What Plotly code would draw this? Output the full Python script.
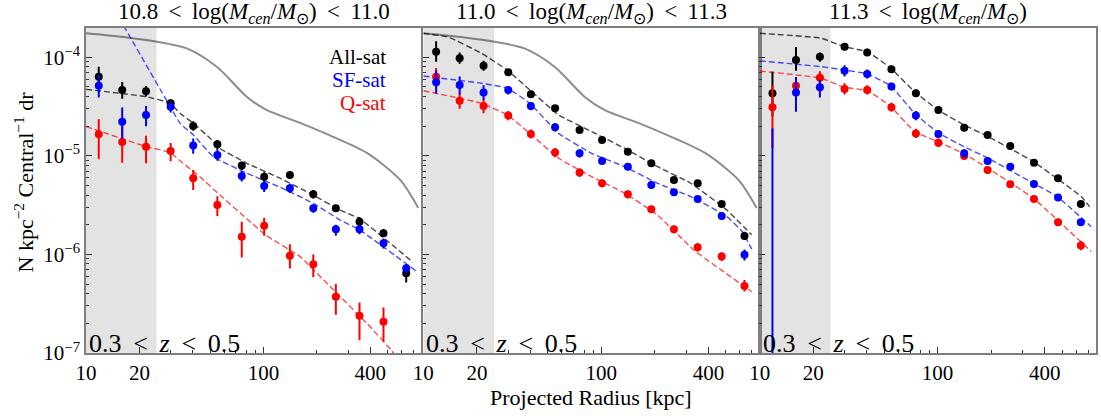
import plotly.graph_objects as go

# ---------------- data ----------------
R = [11.8, 16.0, 21.8, 30.0, 40.2, 55.0, 75.5, 101, 141, 191, 256, 348, 475, 638]
SHADE_MAX_KPC = 25

SP = "\u2009"  # thin space for TeX-like relation spacing
TITLES = [f"10.8 {SP}&lt;{SP} log(<i>M</i><sub><i>cen</i></sub>/<i>M</i><sub>⊙</sub>) {SP}&lt;{SP} 11.0",
          f"11.0 {SP}&lt;{SP} log(<i>M</i><sub><i>cen</i></sub>/<i>M</i><sub>⊙</sub>) {SP}&lt;{SP} 11.3",
          f"11.3 {SP}&lt;{SP} log(<i>M</i><sub><i>cen</i></sub>/<i>M</i><sub>⊙</sub>)"]
ZLABEL = f"0.3 {SP}&lt;{SP} <i>z</i> {SP}&lt;{SP} 0.5"

# panel 1 (10.8-11.0)
p1_all = [6.35e-5, 4.66e-5, 4.52e-5, 3.41e-5, 2.01e-5, 1.31e-5, 7.96e-6, 6.15e-6, 6.4e-6, 4.08e-6, 2.94e-6, 2.15e-6, 1.64e-6, 6.45e-7]
p1_all_hi = [8.0e-5, 5.6e-5, 5.1e-5, 3.75e-5, 2.25e-5, 1.45e-5, 8.7e-6, 6.8e-6, 6.9e-6, 4.5e-6, 3.2e-6, 2.4e-6, 1.8e-6, 7.7e-7]
p1_all_lo = [4.97e-5, 3.8e-5, 4.0e-5, 3.1e-5, 1.8e-5, 1.15e-5, 7.2e-6, 5.5e-6, 5.9e-6, 3.7e-6, 2.7e-6, 1.95e-6, 1.5e-6, 5.2e-7]
p1_sf = [5.15e-5, 2.22e-5, 2.6e-5, 3.15e-5, 1.27e-5, 1.02e-5, 6.25e-6, 4.95e-6, 4.69e-6, 2.94e-6, 1.8e-6, 1.8e-6, 1.3e-6, 7.25e-7]
p1_sf_hi = [6.6e-5, 3.1e-5, 3.2e-5, 3.45e-5, 1.5e-5, 1.15e-5, 7.0e-6, 5.6e-6, 5.2e-6, 3.2e-6, 2.0e-6, 2.0e-6, 1.45e-6, 8.0e-7]
p1_sf_lo = [3.9e-5, 1.5e-5, 2.0e-5, 2.75e-5, 1.05e-5, 8.9e-6, 5.5e-6, 4.3e-6, 4.2e-6, 2.65e-6, 1.55e-6, 1.6e-6, 1.15e-6, 6.4e-7]
p1_q = [1.66e-5, 1.38e-5, 1.24e-5, 1.12e-5, 5.93e-6, 3.18e-6, 1.51e-6, 1.95e-6, 9.7e-7, 7.95e-7, 3.73e-7, 2.39e-7, 2.08e-7]
p1_q_hi = [2.35e-5, 2.0e-5, 1.6e-5, 1.35e-5, 7.2e-6, 3.9e-6, 2.15e-6, 2.35e-6, 1.27e-6, 1.0e-6, 5.0e-7, 3.25e-7, 2.9e-7]
p1_q_lo = [9.3e-6, 8.5e-6, 8.4e-6, 8.8e-6, 4.5e-6, 2.45e-6, 9.3e-7, 1.55e-6, 7.2e-7, 5.9e-7, 2.45e-7, 1.35e-7, 1.3e-7]

# panel 2 (11.0-11.3)
p2_all = [1.14e-4, 9.77e-5, 8.2e-5, 7.05e-5, 4.22e-5, 3.04e-5, 1.83e-5, 1.45e-5, 1.1e-5, 8.42e-6, 5.7e-6, 5.27e-6, 3.25e-6, 1.54e-6]
p2_all_hi = [1.45e-4, 1.12e-4, 9.2e-5, 7.6e-5, 4.6e-5, 3.25e-5, 1.95e-5, 1.55e-5, 1.17e-5, 8.9e-6, 6.0e-6, 5.5e-6, 3.45e-6, 1.7e-6]
p2_all_lo = [9.0e-5, 8.6e-5, 7.3e-5, 6.5e-5, 3.9e-5, 2.85e-5, 1.72e-5, 1.37e-5, 1.04e-5, 7.9e-6, 5.35e-6, 5.0e-6, 3.05e-6, 1.4e-6]
p2_sf = [5.57e-5, 5.23e-5, 4.38e-5, 4.65e-5, 3.2e-5, 1.95e-5, 1.06e-5, 8.87e-6, 7.77e-6, 5.07e-6, 4.28e-6, 3.66e-6, 2.45e-6, 9.9e-7]
p2_sf_hi = [7.3e-5, 6.4e-5, 5.2e-5, 5.1e-5, 3.5e-5, 2.15e-5, 1.17e-5, 9.6e-6, 8.3e-6, 5.5e-6, 4.6e-6, 3.9e-6, 2.65e-6, 1.12e-6]
p2_sf_lo = [4.3e-5, 4.2e-5, 3.7e-5, 4.2e-5, 2.9e-5, 1.77e-5, 9.6e-6, 8.2e-6, 7.2e-6, 4.65e-6, 3.95e-6, 3.4e-6, 2.25e-6, 8.7e-7]
p2_q = [6.35e-5, 3.63e-5, 3.2e-5, 2.56e-5, 1.67e-5, 1.08e-5, 6.76e-6, 5.27e-6, 4.08e-6, 2.87e-6, 1.8e-6, 1.18e-6, 9.5e-7, 4.79e-7]
p2_q_hi = [7.8e-5, 4.3e-5, 3.8e-5, 2.85e-5, 1.85e-5, 1.2e-5, 7.5e-6, 5.75e-6, 4.45e-6, 3.1e-6, 1.97e-6, 1.3e-6, 1.05e-6, 5.5e-7]
p2_q_lo = [4.9e-5, 3.0e-5, 2.7e-5, 2.3e-5, 1.5e-5, 9.7e-6, 6.1e-6, 4.8e-6, 3.7e-6, 2.65e-6, 1.64e-6, 1.07e-6, 8.6e-7, 4.2e-7]

# panel 3 (>11.3)
p3_all = [4.32e-5, 9.4e-5, 1.01e-4, 1.28e-4, 1.12e-4, 7.55e-5, 4.32e-5, 2.92e-5, 1.93e-5, 1.63e-5, 1.26e-5, 8.53e-6, 5.93e-6, 3.25e-6]
p3_all_hi = [7.15e-5, 1.27e-4, 1.12e-4, 1.39e-4, 1.22e-4, 8.2e-5, 4.7e-5, 3.15e-5, 2.08e-5, 1.75e-5, 1.35e-5, 9.1e-6, 6.3e-6, 3.45e-6]
p3_all_lo = [2.5e-5, 7.3e-5, 9.0e-5, 1.18e-4, 1.03e-4, 6.95e-5, 3.95e-5, 2.7e-5, 1.78e-5, 1.51e-5, 1.17e-5, 7.9e-6, 5.55e-6, 3.05e-6]
p3_sf = [5.0e-8, 4.38e-5, 4.97e-5, 7.31e-5, 6.78e-5, 5.04e-5, 2.56e-5, 1.67e-5, 1.06e-5, 8.87e-6, 7.77e-6, 5.19e-6, 3.77e-6, 2.12e-6]
p3_sf_hi = [1.9e-5, 6.3e-5, 5.9e-5, 8.3e-5, 7.5e-5, 5.5e-5, 2.85e-5, 1.83e-5, 1.16e-5, 9.6e-6, 8.4e-6, 5.6e-6, 4.05e-6, 2.3e-6]
p3_sf_lo = [4.0e-8, 2.8e-5, 3.9e-5, 6.4e-5, 6.1e-5, 4.6e-5, 2.3e-5, 1.52e-5, 9.7e-6, 8.2e-6, 7.2e-6, 4.8e-6, 3.5e-6, 1.95e-6]
p3_q = [3.11e-5, 5.15e-5, 6.21e-5, 4.77e-5, 4.66e-5, 3.11e-5, 1.69e-5, 1.36e-5, 9.97e-6, 7.2e-6, 5.15e-6, 3.66e-6, 2.12e-6, 1.23e-6]
p3_q_hi = [5.2e-5, 6.2e-5, 7.2e-5, 5.45e-5, 5.2e-5, 3.45e-5, 1.88e-5, 1.5e-5, 1.09e-5, 7.8e-6, 5.55e-6, 3.95e-6, 2.3e-6, 1.36e-6]
p3_q_lo = [1.2e-5, 4.3e-5, 5.4e-5, 4.2e-5, 4.2e-5, 2.8e-5, 1.52e-5, 1.23e-5, 9.1e-6, 6.65e-6, 4.75e-6, 3.38e-6, 1.95e-6, 1.1e-6]

# model (dashed) curves
m1_all_r = [10, 21.9, 29.8, 33.9, 40.3, 50, 56.9, 80.6, 124, 191, 270, 349, 697]
m1_all_y = [4.73e-5, 3.98e-5, 3.41e-5, 2.7e-5, 2.14e-5, 1.51e-5, 1.19e-5, 8.41e-6, 5.93e-6, 4.0e-6, 2.82e-6, 2.3e-6, 8.3e-7]
m1_sf_r = [14.5, 16.6, 29.8, 33.9, 40.3, 52.2, 80.6, 124, 191, 270, 349, 733]
m1_sf_y = [3.0e-4, 1.97e-4, 3.16e-5, 2.14e-5, 1.63e-5, 9.8e-6, 6.67e-6, 4.81e-6, 3.3e-6, 2.24e-6, 1.77e-6, 6.7e-7]
m1_q_r = [10, 21.9, 29.8, 35, 44, 56.9, 80.6, 104, 161, 247, 383, 541, 600]
m1_q_y = [1.98e-5, 1.24e-5, 1.08e-5, 8.5e-6, 6.1e-6, 4.0e-6, 2.3e-6, 1.55e-6, 9.5e-7, 4.4e-7, 2.0e-7, 1.0e-7, 7.0e-8]

m2_all_r = [10, 13.8, 21.2, 29.6, 39.7, 57.6, 88.3, 135.5, 207, 318, 508, 700]
m2_all_y = [1.75e-4, 1.6e-4, 1.1e-4, 7.4e-5, 4.66e-5, 2.6e-5, 1.76e-5, 1.19e-5, 7.76e-6, 5.27e-6, 2.82e-6, 1.58e-6]
m2_sf_r = [10, 21.2, 29.6, 39.7, 57.6, 88.3, 135.5, 207, 318, 508, 620, 700]
m2_sf_y = [6.45e-5, 5.45e-5, 4.85e-5, 3.41e-5, 1.69e-5, 1.06e-5, 7.76e-6, 5.27e-6, 3.86e-6, 2.42e-6, 1.7e-6, 1.13e-6]
m2_q_r = [10, 21.2, 29.6, 39.7, 57.6, 88.3, 135.5, 207, 331, 700]
m2_q_y = [4.58e-5, 3.41e-5, 2.6e-5, 1.69e-5, 9.46e-6, 6.15e-6, 4.17e-6, 2.51e-6, 1.11e-6, 4.2e-7]

m3_all_r = [10, 22.2, 29.8, 40.3, 54.5, 74.2, 100.6, 140.7, 192, 345, 641, 715]
m3_all_y = [1.75e-4, 1.56e-4, 1.28e-4, 1.14e-4, 7.74e-5, 4.48e-5, 2.92e-5, 2.06e-5, 1.57e-5, 8.73e-6, 3.86e-6, 3.05e-6]
m3_sf_r = [10, 22.2, 29.8, 40.3, 54.5, 74.2, 100.6, 140.7, 192, 345, 470, 730]
m3_sf_y = [9.2e-5, 8.03e-5, 7.43e-5, 6.78e-5, 5.12e-5, 2.7e-5, 1.72e-5, 1.24e-5, 9.46e-6, 5.27e-6, 3.86e-6, 1.91e-6]
m3_q_r = [10, 22.2, 29.8, 40.3, 54.5, 74.2, 100.6, 140.7, 192, 345, 730]
m3_q_y = [7.26e-5, 6.12e-5, 4.97e-5, 4.58e-5, 3.16e-5, 1.76e-5, 1.39e-5, 1.05e-5, 7.48e-6, 3.71e-6, 1.07e-6]

# gray reference curve (panels 1 and 2)
g_r = [10, 17.0, 25.1, 37.0, 54.6, 80.5, 104, 161, 247, 383, 590, 746]
g_y = [1.75e-4, 1.59e-4, 1.44e-4, 1.23e-4, 8.0e-5, 3.98e-5, 2.92e-5, 2.16e-5, 1.56e-5, 1.07e-5, 5.7e-6, 2.96e-6]

XTICKS = [10, 20, 100, 400]
XMINOR = [30, 40, 50, 60, 70, 80, 90, 200, 300, 500, 600, 700]
YTICKS = [1e-7, 1e-6, 1e-5, 1e-4]
YTICKTEXT = ["10<sup>−7</sup>", "10<sup>−6</sup>", "10<sup>−5</sup>", "10<sup>−4</sup>"]
YMINOR = [m * 10 ** e for e in (-7, -6, -5, -4) for m in range(2, 10)]

# ---------------- style ----------------
FONT = "Liberation Serif"
C_ALL, C_SF, C_Q = "black", "#0000ff", "#ff0000"
D_ALL, D_SF, D_Q = "rgba(0,0,0,0.72)", "rgba(0,0,255,0.7)", "rgba(255,0,0,0.7)"

fig = go.Figure()

panels = [
    dict(all=(p1_all, p1_all_hi, p1_all_lo), sf=(p1_sf, p1_sf_hi, p1_sf_lo), q=(p1_q, p1_q_hi, p1_q_lo),
         m=((m1_all_r, m1_all_y), (m1_sf_r, m1_sf_y), (m1_q_r, m1_q_y)), gray=True),
    dict(all=(p2_all, p2_all_hi, p2_all_lo), sf=(p2_sf, p2_sf_hi, p2_sf_lo), q=(p2_q, p2_q_hi, p2_q_lo),
         m=((m2_all_r, m2_all_y), (m2_sf_r, m2_sf_y), (m2_q_r, m2_q_y)), gray=True),
    dict(all=(p3_all, p3_all_hi, p3_all_lo), sf=(p3_sf, p3_sf_hi, p3_sf_lo), q=(p3_q, p3_q_hi, p3_q_lo),
         m=((m3_all_r, m3_all_y), (m3_sf_r, m3_sf_y), (m3_q_r, m3_q_y)), gray=False),
]

domains = [[0.0, 0.332], [0.334, 0.667], [0.667, 1.0]]

for i, p in enumerate(panels):
    xa = "x" if i == 0 else f"x{i+1}"
    ya = "y" if i == 0 else f"y{i+1}"
    if p["gray"]:
        fig.add_trace(go.Scatter(x=g_r, y=g_y, mode="lines",
                                 line=dict(color="rgba(0,0,0,0.45)", width=2, shape="spline", smoothing=0.8),
                                 xaxis=xa, yaxis=ya, showlegend=False, hoverinfo="skip"))
    for (mr, my), col in zip(p["m"], [D_ALL, D_SF, D_Q]):
        fig.add_trace(go.Scatter(x=mr, y=my, mode="lines",
                                 line=dict(color=col, width=1.4, dash="6px,3px", shape="spline", smoothing=0.4),
                                 xaxis=xa, yaxis=ya, showlegend=False, hoverinfo="skip"))
    for key, col in [("all", C_ALL), ("q", C_Q), ("sf", C_SF)]:
        v, hi, lo = p[key]
        n = len(v)
        fig.add_trace(go.Scatter(
            x=R[:n], y=v, mode="markers", marker=dict(color=col, size=8),
            error_y=dict(type="data", symmetric=False,
                         array=[h - a for h, a in zip(hi, v)],
                         arrayminus=[a - l for a, l in zip(v, lo)],
                         color=col, thickness=2, width=0),
            xaxis=xa, yaxis=ya, showlegend=False))

    fig.add_shape(type="rect", xref=xa, yref=f"{ya} domain", x0=10, x1=SHADE_MAX_KPC, y0=0, y1=1,
                  fillcolor="rgba(128,128,128,0.22)", line=dict(width=0), layer="below")

    axis_common = dict(showline=True, linecolor="#7f7f7f", linewidth=1.6, mirror=True,
                       ticks="inside", tickcolor="#333", ticklen=6, tickwidth=1,
                       showgrid=False, zeroline=False)
    fig.layout[f"xaxis{'' if i == 0 else i+1}"] = dict(
        type="log", range=[1, 2.89], domain=domains[i], anchor=ya,
        tickvals=XTICKS, ticktext=[str(t) for t in XTICKS],
        minor=dict(tickvals=XMINOR, ticks="inside", ticklen=3, tickcolor="#333"),
        tickfont=dict(family=FONT, size=21, color="black"), **axis_common)
    ydict = dict(type="log", range=[-7, -3.703], domain=[0, 1], anchor=xa,
                 tickvals=YTICKS, ticktext=YTICKTEXT,
                 minor=dict(tickvals=YMINOR, ticks="inside", ticklen=3, tickcolor="#333"),
                 tickfont=dict(family=FONT, size=21, color="black"), **axis_common)
    if i > 0:
        ydict["showticklabels"] = False
        ydict["matches"] = "y"
    fig.layout[f"yaxis{'' if i == 0 else i+1}"] = ydict

    xdom = f"{xa} domain"
    fig.add_annotation(text=TITLES[i], xref=xdom, yref="paper", x=0.5, y=1, yshift=15,
                       xanchor="center", yanchor="middle", showarrow=False,
                       font=dict(family=FONT, size=23, color="black"))
    fig.add_annotation(text=ZLABEL, xref=xdom, yref="paper", x=0.0, xshift=1, y=0, yshift=-7,
                       xanchor="left", yanchor="bottom", showarrow=False,
                       font=dict(family=FONT, size=26, color="black"))

for txt, col, yy in [("All-sat", C_ALL, 0.911), ("SF-sat", C_SF, 0.840), ("Q-sat", C_Q, 0.769)]:
    fig.add_annotation(text=txt, xref="x domain", yref="y domain", x=0.902, y=yy,
                       xanchor="right", yanchor="middle", showarrow=False,
                       font=dict(family=FONT, size=21, color=col))

fig.add_annotation(text="Projected Radius [kpc]", xref="paper", yref="paper", x=0.5, y=0, yshift=-44,
                   xanchor="center", yanchor="middle", showarrow=False,
                   font=dict(family=FONT, size=22, color="black"))
fig.add_annotation(text="N kpc<sup>−2</sup> Central<sup>−1</sup> dr", xref="paper", yref="paper",
                   x=0, xshift=-63, y=0.5, yshift=8, textangle=-90,
                   xanchor="center", yanchor="middle", showarrow=False,
                   font=dict(family=FONT, size=22, color="black"))

fig.update_layout(width=1101, height=416, margin=dict(l=86, r=3, t=28, b=63),
                  paper_bgcolor="white", plot_bgcolor="white", showlegend=False)

fig.write_html("out.html")
